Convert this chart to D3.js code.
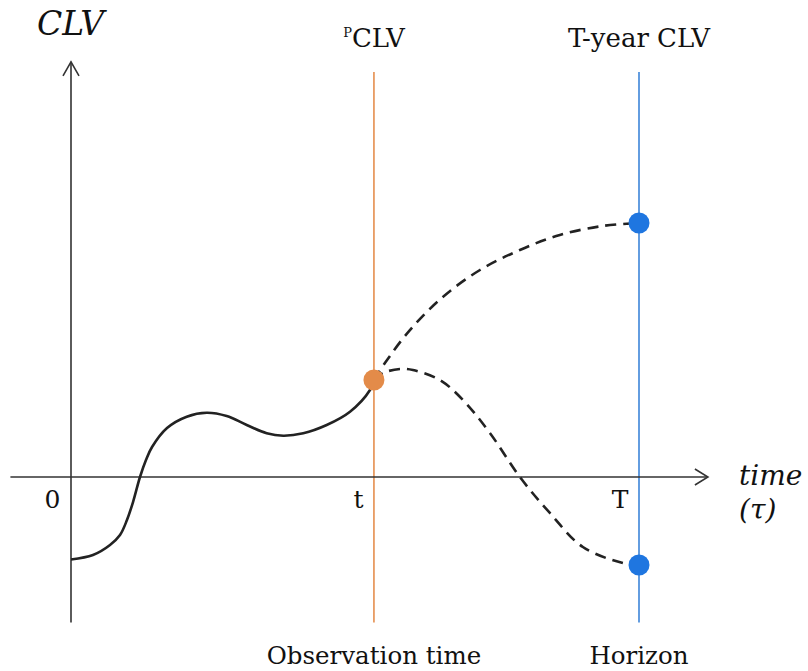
<!DOCTYPE html>
<html>
<head>
<meta charset="utf-8">
<script src="https://cdn.jsdelivr.net/npm/d3@7"></script>
<style>
  body { margin: 0; background: #fff; }
  text { font-family: "DejaVu Serif", "Liberation Serif", serif; fill: #111; }
</style>
</head>
<body>
<div id="chart"></div>
<script>
'use strict';

// observed path, 0 .. t
var solidX = [0, 0.29, 0.515, 0.647, 0.739, 0.819, 0.911, 0.99, 1.07, 1.268, 1.528, 1.792, 2.056, 2.32, 2.584, 2.803, 3.067, 3.376, 3.684, 3.948, 4];
var solidY = [-0.85, -0.804, -0.701, -0.598, -0.443, -0.258, 0, 0.175, 0.309, 0.505, 0.622, 0.663, 0.629, 0.536, 0.451, 0.426, 0.451, 0.536, 0.673, 0.897, 1];

// two possible futures, t .. T
var upperX = [4, 4.145, 4.475, 4.91, 5.4, 5.927, 6.455, 7.023, 7.5];
var upperY = [1, 1.175, 1.515, 1.856, 2.134, 2.34, 2.495, 2.588, 2.619];
var lowerX = [4, 4.119, 4.343, 4.515, 4.871, 5.175, 5.531, 5.927, 6.323, 6.759, 7.287, 7.5];
var lowerY = [1, 1.072, 1.113, 1.103, 1.0, 0.794, 0.454, 0, -0.371, -0.722, -0.887, -0.907];

var tickValues = [0, 4, 7.5];
var tickLabels = ['0', 't', 'T'];

var width = 808, height = 671;

var svg = d3.select('#chart').append('svg')
    .attr('width', width)
    .attr('height', height);

var x = d3.scaleLinear().domain([0, 7.5]).range([71, 639]);
var y = d3.scaleLinear().domain([0, 1]).range([477, 380]);

var axisColor = '#333';

//vertical markers for t and T
function vline(xv, color) {
    svg.append('line')
        .attr('x1', x(xv)).attr('x2', x(xv))
        .attr('y1', y(4.175)).attr('y2', y(-1.5))
        .attr('stroke', color)
        .attr('stroke-width', 1.6);
}
vline(4, '#e58e4e');
vline(7.5, '#3d85d9');

//x axis with open arrow head
svg.append('line')
    .attr('x1', x(-0.8)).attr('x2', x(8.41))
    .attr('y1', y(0)).attr('y2', y(0))
    .attr('stroke', axisColor).attr('stroke-width', 1.6);
svg.append('path')
    .attr('d', 'M ' + (x(8.41) - 13) + ' ' + (y(0) - 8) + ' L ' + x(8.41) + ' ' + y(0) + ' L ' + (x(8.41) - 13) + ' ' + (y(0) + 8))
    .attr('fill', 'none').attr('stroke', axisColor).attr('stroke-width', 1.6);

//y axis
svg.append('line')
    .attr('x1', x(0)).attr('x2', x(0))
    .attr('y1', y(-1.5)).attr('y2', y(4.28))
    .attr('stroke', axisColor).attr('stroke-width', 1.6);
svg.append('path')
    .attr('d', 'M ' + (x(0) - 8) + ' ' + (y(4.28) + 14) + ' L ' + x(0) + ' ' + y(4.28) + ' L ' + (x(0) + 8) + ' ' + (y(4.28) + 14))
    .attr('fill', 'none').attr('stroke', axisColor).attr('stroke-width', 1.6);

//tick labels
var xAxis = d3.axisBottom(x)
    .tickValues(tickValues)
    .tickSize(0)
    .tickFormat(function(d, i) { return tickLabels[i]; });
var gx = svg.append('g')
    .attr('transform', 'translate(0,' + y(0) + ')')
    .call(xAxis);
gx.select('.domain').remove();
gx.selectAll('text')
    .attr('font-family', '"DejaVu Serif", serif')
    .attr('font-size', 25)
    .attr('fill', '#111')
    .attr('text-anchor', 'end')
    .attr('dx', -11)
    .attr('dy', 0)
    .attr('y', 31);

//curves
var line = d3.line()
    .x(function(d) { return x(d[0]); })
    .y(function(d) { return y(d[1]); })
    .curve(d3.curveCatmullRom);

function pairs(xs, ys) { return xs.map(function(v, i) { return [v, ys[i]]; }); }

svg.append('path')
    .attr('d', line(pairs(upperX, upperY)))
    .attr('fill', 'none').attr('stroke', '#222').attr('stroke-width', 2.6)
    .attr('stroke-dasharray', '11,7');
svg.append('path')
    .attr('d', line(pairs(lowerX, lowerY)))
    .attr('fill', 'none').attr('stroke', '#222').attr('stroke-width', 2.6)
    .attr('stroke-dasharray', '11,7');
svg.append('path')
    .attr('d', line(pairs(solidX, solidY)))
    .attr('fill', 'none').attr('stroke', '#222').attr('stroke-width', 2.6);

//points
svg.append('circle')
    .attr('cx', x(4)).attr('cy', y(solidY[solidY.length - 1]))
    .attr('r', 10.5).attr('fill', '#e38b49');
svg.append('circle')
    .attr('cx', x(7.5)).attr('cy', y(upperY[upperY.length - 1]))
    .attr('r', 10.5).attr('fill', '#1f76e0');
svg.append('circle')
    .attr('cx', x(7.5)).attr('cy', y(lowerY[lowerY.length - 1]))
    .attr('r', 10.5).attr('fill', '#1f76e0');

//labels
svg.append('text')
    .attr('x', 37).attr('y', 35)
    .attr('font-size', 33).attr('font-style', 'italic')
    .text('CLV');

var pclv = svg.append('text')
    .attr('x', x(4)).attr('y', 47)
    .attr('text-anchor', 'middle')
    .attr('font-size', 26);
pclv.append('tspan').attr('font-size', 13).attr('dy', -10).text('P');
pclv.append('tspan').attr('dy', 10).text('CLV');

svg.append('text')
    .attr('x', x(7.5)).attr('y', 47)
    .attr('text-anchor', 'middle')
    .attr('font-size', 26)
    .text('T-year CLV');

svg.append('text')
    .attr('x', 739).attr('y', 485)
    .attr('font-size', 28).attr('font-style', 'italic')
    .text('time');
svg.append('text')
    .attr('x', 739).attr('y', 519)
    .attr('font-size', 28).attr('font-style', 'italic')
    .text('(τ)');

svg.append('text')
    .attr('x', x(4)).attr('y', 664)
    .attr('text-anchor', 'middle')
    .attr('font-size', 24.5)
    .text('Observation time');
svg.append('text')
    .attr('x', x(7.5)).attr('y', 664)
    .attr('text-anchor', 'middle')
    .attr('font-size', 24.5)
    .text('Horizon');
</script>
</body>
</html>
